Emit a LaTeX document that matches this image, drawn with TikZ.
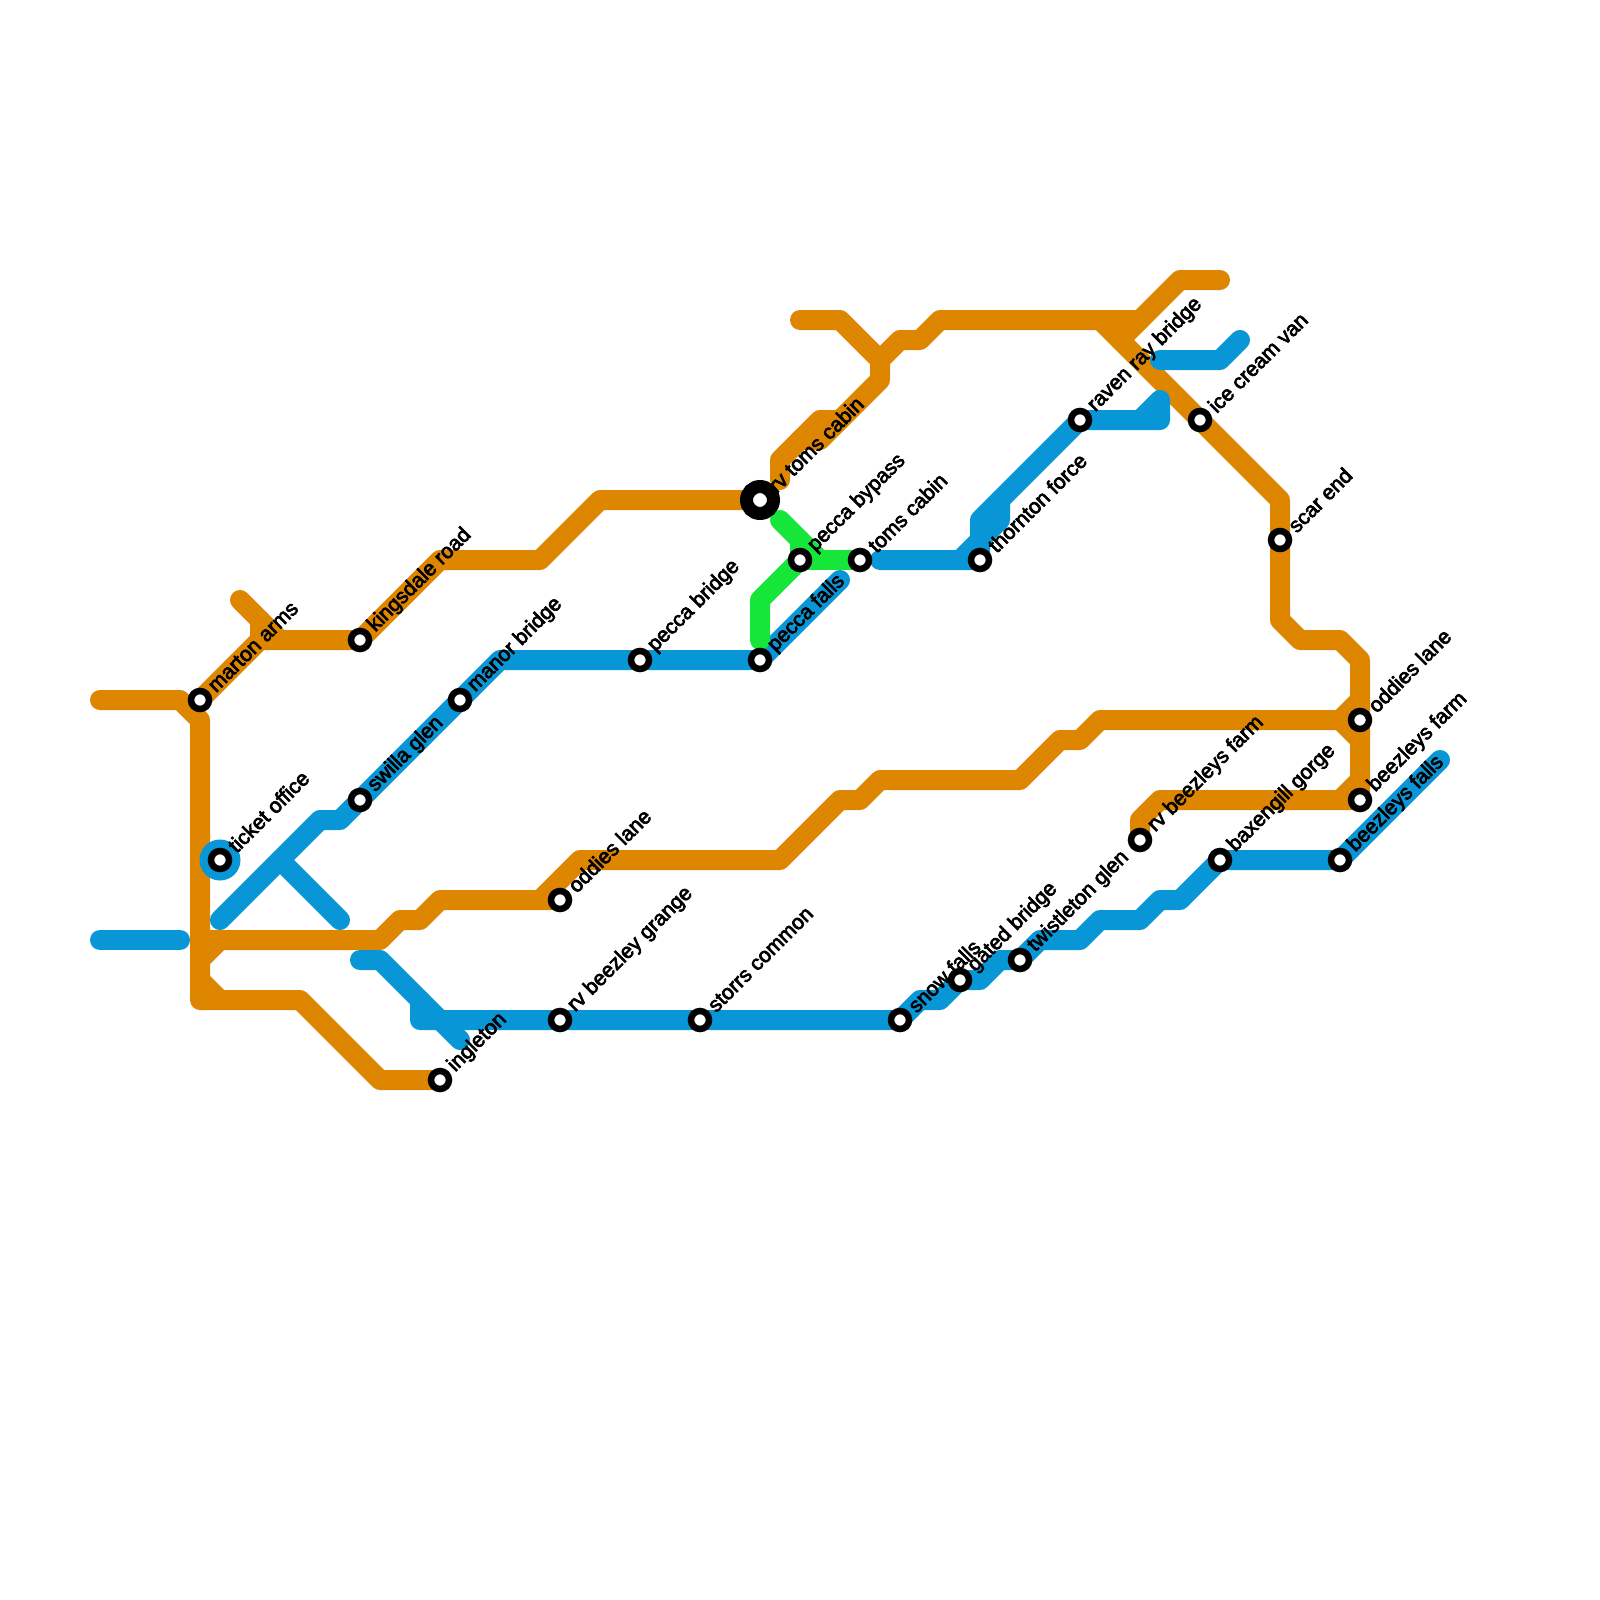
\documentclass[tikz,border=0pt]{standalone}
\usepackage{fontspec}
\newfontfamily\labfont[FakeBold=3.2]{Liberation Sans}
\definecolor{orangeln}{HTML}{DF8600}
\definecolor{blueln}{HTML}{0896D7}
\definecolor{greenln}{HTML}{15E639}
\tikzset{
  railbase/.style={line width=20pt,line cap=round,line join=round},
  orangerail/.style={railbase,draw=orangeln},
  bluerail/.style={railbase,draw=blueln},
  greenrail/.style={railbase,draw=greenln},
  stop/.style={circle,draw=black,fill=white,line width=6.5pt,minimum size=18pt,inner sep=0pt},
  bigstop/.style={circle,draw=black,fill=white,line width=13pt,minimum size=27pt,inner sep=0pt},
  halo/.style={circle,fill=blueln,minimum size=41pt,inner sep=0pt},
  lab/.style={rotate=45,anchor=west,inner xsep=16pt,inner ysep=0pt,font=\labfont\fontsize{21}{21}\selectfont,text=black},
}
\newcommand{\stn}[3]{\node[stop] (#1) at (#2) {}; \node[lab] (#1-l) at (#1) {#3};}
\begin{document}
\begin{tikzpicture}[x=20pt,y=-20pt]
\useasboundingbox[fill=white] (0,0) rectangle (80,80);
% orange
\draw[orangerail] (5,35)--(9,35)--(10,36)--(10,50)--(15,50)--(19,54)--(22,54);
\draw[orangerail] (10,48)--(11,47);
\draw[orangerail] (10,49)--(11,50);
\draw[orangerail] (10,35)--(13,32)--(18,32)--(22,28)--(27,28)--(30,25)--(38,25);
\draw[orangerail] (12,30)--(14,32);
\draw[orangerail] (13,31)--(13,32);
\draw[orangerail] (10,47)--(19,47)--(20,46)--(21,46)--(22,45)--(28,45);
\draw[orangerail] (27,45)--(29,43)--(39,43)--(42,40)--(43,40)--(44,39)--(51,39)--(53,37)--(54,37)--(55,36)--(68,36);
\draw[orangerail] (40,16)--(42,16)--(44,18)--(44,19)--(41,22)--(40,22)--(39,23)--(39,24);
\draw[orangerail] (40,22)--(41,21)--(42,21);
\draw[orangerail] (44,18)--(45,17)--(46,17)--(47,16)--(57,16)--(59,14)--(61,14);
\draw[orangerail] (57,16)--(56,17);
\draw[orangerail] (55,16)--(64,25)--(64,31)--(65,32)--(67,32)--(68,33)--(68,40);
\draw[orangerail] (67,36)--(68,35);
\draw[orangerail] (67,36)--(68,37);
\draw[orangerail] (57,42)--(57,41)--(58,40)--(68,40);
\draw[orangerail] (67,40)--(68,39);
% blue
\draw[bluerail] (5,47)--(9,47);
\draw[bluerail] (11,46)--(16,41)--(17,41)--(25,33)--(38,33)--(42,29);
\draw[bluerail] (14,43)--(17,46);
\draw[bluerail] (18,48)--(19,48)--(23,52);
\draw[bluerail] (21,50)--(21,51)--(45,51)--(46,50)--(47,50)--(48,49)--(49,49)--(50,48)--(51,48)--(52,47)--(54,47)--(55,46)--(57,46)--(58,45)--(59,45)--(61,43)--(67,43)--(72,38);
\draw[bluerail] (44,28)--(49,28)--(49,26)--(54,21)--(57,21)--(58,20)--(58,21)--(57,21);
\draw[bluerail] (48,28)--(50,26)--(50,25);
\draw[bluerail] (58,18)--(61,18)--(62,17);
% green
\draw[greenrail] (39,26)--(41,28);
\draw[greenrail] (40,27)--(40,28)--(43,28);
\draw[greenrail] (38,32)--(38,30)--(40,28);
% stations
\node[halo] (ticketbg) at (11,43) {};
\node[bigstop] (rvtoms) at (38,25) {};
\node[lab] (rvtoms-l) at (rvtoms) {rv toms cabin};
\stn{marton}{10,35}{marton arms}
\stn{kingsdale}{18,32}{kingsdale road}
\stn{ticket}{11,43}{ticket office}
\stn{swilla}{18,40}{swilla glen}
\stn{manor}{23,35}{manor bridge}
\stn{pbridge}{32,33}{pecca bridge}
\stn{pfalls}{38,33}{pecca falls}
\stn{pbypass}{40,28}{pecca bypass}
\stn{toms}{43,28}{toms cabin}
\stn{thornton}{49,28}{thornton force}
\stn{raven}{54,21}{raven ray bridge}
\stn{icecream}{60,21}{ice cream van}
\stn{scar}{64,27}{scar end}
\stn{oddiesb}{68,36}{oddies lane}
\stn{bfarm}{68,40}{beezleys farm}
\stn{bfalls}{67,43}{beezleys falls}
\stn{baxen}{61,43}{baxengill gorge}
\stn{rvbfarm}{57,42}{rv beezleys farm}
\stn{oddiesa}{28,45}{oddies lane}
\stn{rvgrange}{28,51}{rv beezley grange}
\stn{storrs}{35,51}{storrs common}
\stn{ingleton}{22,54}{ingleton}
\stn{snow}{45,51}{snow falls}
\stn{gated}{48,49}{gated bridge}
\stn{twist}{51,48}{twistleton glen}
\end{tikzpicture}
\end{document}
